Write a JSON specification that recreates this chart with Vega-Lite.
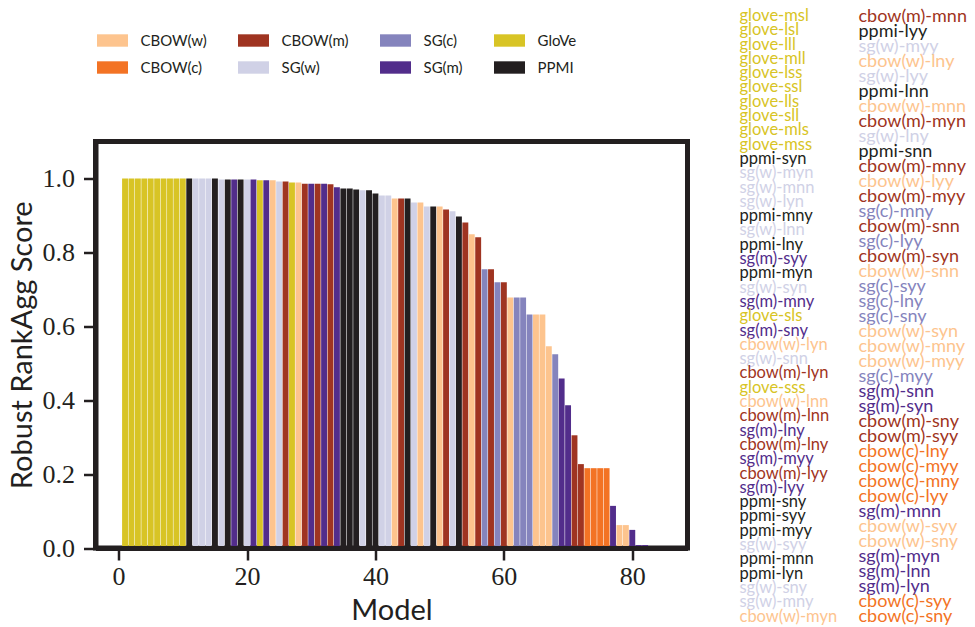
{
  "$schema": "https://vega.github.io/schema/vega-lite/v6.json",
  "width": 592,
  "height": 406.5,
  "autosize": {"type": "none"},
  "padding": {"left": 95.5, "top": 141.5, "right": 287.5, "bottom": 79},
  "config": {
    "view": {"stroke": "#231f20", "strokeWidth": 5},
    "font": "Lato"
  },
  "data": {"values": [
    {"rank":1,"name":"glove-msl","type":"GloVe","score":1.0},
    {"rank":2,"name":"glove-lsl","type":"GloVe","score":1.0},
    {"rank":3,"name":"glove-lll","type":"GloVe","score":1.0},
    {"rank":4,"name":"glove-mll","type":"GloVe","score":1.0},
    {"rank":5,"name":"glove-lss","type":"GloVe","score":1.0},
    {"rank":6,"name":"glove-ssl","type":"GloVe","score":1.0},
    {"rank":7,"name":"glove-lls","type":"GloVe","score":1.0},
    {"rank":8,"name":"glove-sll","type":"GloVe","score":1.0},
    {"rank":9,"name":"glove-mls","type":"GloVe","score":1.0},
    {"rank":10,"name":"glove-mss","type":"GloVe","score":1.0},
    {"rank":11,"name":"ppmi-syn","type":"PPMI","score":1.0},
    {"rank":12,"name":"sg(w)-myn","type":"SG(w)","score":1.0},
    {"rank":13,"name":"sg(w)-mnn","type":"SG(w)","score":1.0},
    {"rank":14,"name":"sg(w)-lyn","type":"SG(w)","score":1.0},
    {"rank":15,"name":"ppmi-mny","type":"PPMI","score":1.0},
    {"rank":16,"name":"sg(w)-lnn","type":"SG(w)","score":0.997},
    {"rank":17,"name":"ppmi-lny","type":"PPMI","score":0.997},
    {"rank":18,"name":"sg(m)-syy","type":"SG(m)","score":0.997},
    {"rank":19,"name":"ppmi-myn","type":"PPMI","score":0.997},
    {"rank":20,"name":"sg(w)-syn","type":"SG(w)","score":0.997},
    {"rank":21,"name":"sg(m)-mny","type":"SG(m)","score":0.997},
    {"rank":22,"name":"glove-sls","type":"GloVe","score":0.995},
    {"rank":23,"name":"sg(m)-sny","type":"SG(m)","score":0.995},
    {"rank":24,"name":"cbow(w)-lyn","type":"CBOW(w)","score":0.995},
    {"rank":25,"name":"sg(w)-snn","type":"SG(w)","score":0.992},
    {"rank":26,"name":"cbow(m)-lyn","type":"CBOW(m)","score":0.992},
    {"rank":27,"name":"glove-sss","type":"GloVe","score":0.989},
    {"rank":28,"name":"cbow(w)-lnn","type":"CBOW(w)","score":0.989},
    {"rank":29,"name":"cbow(m)-lnn","type":"CBOW(m)","score":0.986},
    {"rank":30,"name":"sg(m)-lny","type":"SG(m)","score":0.986},
    {"rank":31,"name":"cbow(m)-lny","type":"CBOW(m)","score":0.986},
    {"rank":32,"name":"sg(m)-myy","type":"SG(m)","score":0.986},
    {"rank":33,"name":"cbow(m)-lyy","type":"CBOW(m)","score":0.984},
    {"rank":34,"name":"sg(m)-lyy","type":"SG(m)","score":0.976},
    {"rank":35,"name":"ppmi-sny","type":"PPMI","score":0.973},
    {"rank":36,"name":"ppmi-syy","type":"PPMI","score":0.973},
    {"rank":37,"name":"ppmi-myy","type":"PPMI","score":0.970},
    {"rank":38,"name":"sg(w)-syy","type":"SG(w)","score":0.968},
    {"rank":39,"name":"ppmi-mnn","type":"PPMI","score":0.968},
    {"rank":40,"name":"ppmi-lyn","type":"PPMI","score":0.959},
    {"rank":41,"name":"sg(w)-sny","type":"SG(w)","score":0.954},
    {"rank":42,"name":"sg(w)-mny","type":"SG(w)","score":0.954},
    {"rank":43,"name":"cbow(w)-myn","type":"CBOW(w)","score":0.946},
    {"rank":44,"name":"cbow(m)-mnn","type":"CBOW(m)","score":0.946},
    {"rank":45,"name":"ppmi-lyy","type":"PPMI","score":0.946},
    {"rank":46,"name":"sg(w)-myy","type":"SG(w)","score":0.935},
    {"rank":47,"name":"cbow(w)-lny","type":"CBOW(w)","score":0.935},
    {"rank":48,"name":"sg(w)-lyy","type":"SG(w)","score":0.924},
    {"rank":49,"name":"ppmi-lnn","type":"PPMI","score":0.924},
    {"rank":50,"name":"cbow(w)-mnn","type":"CBOW(w)","score":0.924},
    {"rank":51,"name":"cbow(m)-myn","type":"CBOW(m)","score":0.916},
    {"rank":52,"name":"sg(w)-lny","type":"SG(w)","score":0.911},
    {"rank":53,"name":"ppmi-snn","type":"PPMI","score":0.897},
    {"rank":54,"name":"cbow(m)-mny","type":"CBOW(m)","score":0.881},
    {"rank":55,"name":"cbow(w)-lyy","type":"CBOW(w)","score":0.849},
    {"rank":56,"name":"cbow(m)-myy","type":"CBOW(m)","score":0.841},
    {"rank":57,"name":"sg(c)-mny","type":"SG(c)","score":0.754},
    {"rank":58,"name":"cbow(m)-snn","type":"CBOW(m)","score":0.754},
    {"rank":59,"name":"sg(c)-lyy","type":"SG(c)","score":0.719},
    {"rank":60,"name":"cbow(m)-syn","type":"CBOW(m)","score":0.719},
    {"rank":61,"name":"cbow(w)-snn","type":"CBOW(w)","score":0.678},
    {"rank":62,"name":"sg(c)-syy","type":"SG(c)","score":0.678},
    {"rank":63,"name":"sg(c)-lny","type":"SG(c)","score":0.678},
    {"rank":64,"name":"sg(c)-sny","type":"SG(c)","score":0.632},
    {"rank":65,"name":"cbow(w)-syn","type":"CBOW(w)","score":0.632},
    {"rank":66,"name":"cbow(w)-mny","type":"CBOW(w)","score":0.632},
    {"rank":67,"name":"cbow(w)-myy","type":"CBOW(w)","score":0.546},
    {"rank":68,"name":"sg(c)-myy","type":"SG(c)","score":0.524},
    {"rank":69,"name":"sg(m)-snn","type":"SG(m)","score":0.459},
    {"rank":70,"name":"sg(m)-syn","type":"SG(m)","score":0.386},
    {"rank":71,"name":"cbow(m)-sny","type":"CBOW(m)","score":0.305},
    {"rank":72,"name":"cbow(m)-syy","type":"CBOW(m)","score":0.227},
    {"rank":73,"name":"cbow(c)-lny","type":"CBOW(c)","score":0.216},
    {"rank":74,"name":"cbow(c)-myy","type":"CBOW(c)","score":0.216},
    {"rank":75,"name":"cbow(c)-mny","type":"CBOW(c)","score":0.216},
    {"rank":76,"name":"cbow(c)-lyy","type":"CBOW(c)","score":0.216},
    {"rank":77,"name":"sg(m)-mnn","type":"SG(m)","score":0.114},
    {"rank":78,"name":"cbow(w)-syy","type":"CBOW(w)","score":0.062},
    {"rank":79,"name":"cbow(w)-sny","type":"CBOW(w)","score":0.062},
    {"rank":80,"name":"sg(m)-myn","type":"SG(m)","score":0.049},
    {"rank":81,"name":"sg(m)-lnn","type":"SG(m)","score":0.008},
    {"rank":82,"name":"sg(m)-lyn","type":"SG(m)","score":0.008},
    {"rank":83,"name":"cbow(c)-syy","type":"CBOW(c)","score":0.0},
    {"rank":84,"name":"cbow(c)-sny","type":"CBOW(c)","score":0.0}
  ]},
  "layer": [
    {
      "mark": {"type": "bar", "orient": "vertical", "size": 5.9},
      "encoding": {
        "x": {"field": "rank", "type": "quantitative",
          "scale": {"domain": [-3.6, 88.6], "nice": false, "zero": false, "padding": 0},
          "axis": {"values": [0, 20, 40, 60, 80], "title": "Model", "grid": false,
            "domain": true, "domainWidth": 5, "domainColor": "#231f20", "zindex": 1,
            "tickSize": 12, "tickWidth": 2.5, "tickColor": "#231f20",
            "labelFont": "Liberation Serif", "labelFontSize": 26, "labelColor": "#231f20", "labelPadding": 3,
            "titleFont": "Lato", "titleFontSize": 29, "titleFontWeight": "normal", "titleColor": "#231f20", "titlePadding": 7}},
        "y": {"field": "score", "type": "quantitative",
          "scale": {"domain": [0, 1.1], "nice": false},
          "axis": {"values": [0, 0.2, 0.4, 0.6, 0.8, 1.0], "format": ".1f", "title": "Robust RankAgg Score", "grid": false,
            "domain": true, "domainWidth": 5, "domainColor": "#231f20", "zindex": 1,
            "tickSize": 12, "tickWidth": 2.5, "tickColor": "#231f20",
            "labelFont": "Liberation Serif", "labelFontSize": 26, "labelColor": "#231f20", "labelPadding": 9,
            "titleFont": "Lato", "titleFontSize": 29, "titleFontWeight": "normal", "titleColor": "#231f20", "titlePadding": 5}},
        "color": {"field": "type", "type": "nominal",
          "scale": {"domain": ["CBOW(w)", "CBOW(m)", "SG(c)", "GloVe", "CBOW(c)", "SG(w)", "SG(m)", "PPMI"],
                    "range": ["#fdc48e", "#9f3421", "#8584bd", "#d8c425", "#f37324", "#d0d1e6", "#522d8b", "#231f20"]},
          "legend": {"orient": "none", "legendX": 9, "legendY": -109, "title": null, "columns": 4, "direction": "horizontal",
            "gridAlign": "each", "padding": 0,
            "symbolType": "M-2,-0.8H2V0.8H-2Z", "symbolSize": 240, "symbolStrokeWidth": 0, "symbolOpacity": 1,
            "labelFont": "Lato", "labelFontSize": 15, "labelColor": "#231f20", "labelOffset": 20,
            "columnPadding": 30, "rowPadding": 11}}
      }
    },
    {
      "transform": [{"filter": "datum.rank <= 43"}],
      "mark": {"type": "text", "align": "left", "baseline": "middle", "font": "Lato", "fontSize": 16.5},
      "encoding": {
        "x": {"datum": 1, "type": "quantitative", "scale": {"domain": [0, 0.91925], "nice": false, "zero": false}, "axis": null},
        "y": {"field": "rank", "type": "quantitative", "scale": {"domain": [38.208, 9.777], "nice": false, "zero": false}, "axis": null},
        "text": {"field": "name"},
        "color": {"field": "type", "type": "nominal"}
      }
    },
    {
      "transform": [{"filter": "datum.rank > 43"}],
      "mark": {"type": "text", "align": "left", "baseline": "middle", "font": "Lato", "fontSize": 18},
      "encoding": {
        "x": {"datum": 1, "type": "quantitative", "scale": {"domain": [0, 0.77588], "nice": false, "zero": false}, "axis": null},
        "y": {"field": "rank", "type": "quantitative", "scale": {"domain": [79.433, 52.333], "nice": false, "zero": false}, "axis": null},
        "text": {"field": "name"},
        "color": {"field": "type", "type": "nominal"}
      }
    }
  ],
  "resolve": {"scale": {"x": "independent", "y": "independent"}}
}
